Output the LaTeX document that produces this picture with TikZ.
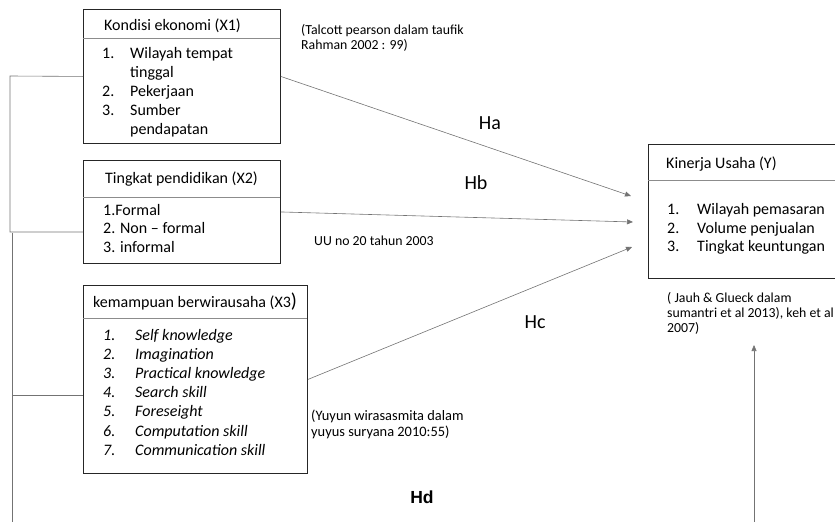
\documentclass[tikz,border=0pt]{standalone}
\usepackage{fontspec}
\setmainfont{Carlito}
\newfontfamily\hdfont{Liberation Sans}
\usetikzlibrary{arrows.meta}
\begin{document}
\begin{tikzpicture}[x=1pt,y=-1pt,
  box/.style={draw=black!85,line width=0.9pt,anchor=north west,inner sep=0pt},
  divider/.style={draw=black!45,line width=0.7pt},
  conn/.style={draw=black!55,line width=0.6pt},
  arr/.style={conn,-{Triangle[length=6pt,width=5pt]}},
  ttl/.style={anchor=base west,inner sep=0pt,font=\fontsize{16}{18}\selectfont},
  itm/.style={anchor=base west,inner sep=0pt,font=\fontsize{16}{18}\selectfont},
  iitm/.style={itm,font=\fontsize{16}{18}\selectfont\itshape},
  ref/.style={anchor=base west,inner sep=0pt,font=\fontsize{13.8}{15}\selectfont},
  hlab/.style={inner sep=0pt,font=\fontsize{20}{22}\selectfont}]
\useasboundingbox (0,0) rectangle (835,522);
% X1
\node[box,minimum width=197pt,minimum height=134pt] (x1) at (83,9) {};
\draw[divider] (83,38) -- (280,38);
\node[ttl] (x1t) at (104,30) {Kondisi ekonomi (X1)};
\node[itm] (x1n1) at (102,58) {1.};
\node[itm] (x1a) at (130,58) {Wilayah tempat};
\node[itm] (x1b) at (130,77) {tinggal};
\node[itm] (x1n2) at (102,96) {2.};
\node[itm] (x1c) at (130,96) {Pekerjaan};
\node[itm] (x1n3) at (102,115) {3.};
\node[itm] (x1d) at (130,115) {Sumber};
\node[itm] (x1e) at (130,134) {pendapatan};
% X2
\node[box,minimum width=197pt,minimum height=103pt] (x2) at (83,160) {};
\draw[divider] (83,197) -- (280,197);
\node[ttl] (x2t) at (105,183) {Tingkat pendidikan (X2)};
\node[itm] (x2a) at (103,215) {1.Formal};
\node[itm] (x2b) at (103,233.5) {2. Non -- formal};
\node[itm] (x2c) at (103,252) {3. informal};
% X3
\node[box,minimum width=224pt,minimum height=188pt] (x3) at (83,285) {};
\draw[divider] (83,318) -- (307,318);
\node[ttl] (x3t) at (93,307) {kemampuan berwirausaha (X3{\fontsize{20}{22}\selectfont)}};
\foreach \n/\t [count=\i] in {1/Self knowledge,2/Imagination,3/Practical knowledge,4/Search skill,5/Foreseight,6/Computation skill,7/Communication skill}{
  \node[iitm] (x3n\i) at (103,{340+19.2*(\i-1)}) {\n.};
  \node[iitm] (x3i\i) at (135,{340+19.2*(\i-1)}) {\t};
}
% Y
\coordinate (ytl) at (648,144);
\coordinate (ybl) at (648,278);
\draw[draw=black!85,line width=0.9pt] (835,144) -- (ytl) -- (ybl) -- (835,278);
\draw[divider] (648,180) -- (835,180);
\node[ttl] (yt) at (666,168) {Kinerja Usaha (Y)};
\node[itm] (yn1) at (667,214.5) {1.};
\node[itm] (ya) at (697,214.5) {Wilayah pemasaran};
\node[itm] (yn2) at (667,233) {2.};
\node[itm] (yb) at (697,233) {Volume penjualan};
\node[itm] (yn3) at (667,251.5) {3.};
\node[itm] (yc) at (697,251.5) {Tingkat keuntungan};
% references
\node[ref] (r1a) at (301,34.5) {(Talcott pearson dalam taufik};
\node[ref] (r1b) at (301,49.5) {Rahman 2002 : 99)};
\node[ref] (r2) at (314,245) {UU no 20 tahun 2003};
\node[ref,font=\fontsize{14.4}{16}\selectfont] (r3a) at (311,420) {(Yuyun wirasasmita dalam};
\node[ref,font=\fontsize{14.4}{16}\selectfont] (r3b) at (311,436) {yuyus suryana 2010:55)};
\node[ref] (r4a) at (667,302.5) {( Jauh \& Glueck dalam};
\node[ref] (r4b) at (667,317.5) {sumantri et al 2013), keh et al};
\node[ref] (r4c) at (667,332) {2007)};
% labels
\node[hlab] (ha) at (490,123) {Ha};
\node[hlab] (hb) at (476,183) {Hb};
\node[hlab] (hc) at (535,322) {Hc};
\node[inner sep=0pt,font=\hdfont\bfseries\fontsize{17.5}{19}\selectfont] (hd) at (422,497) {Hd};
% arrow targets
\coordinate (ta) at (631,196);
\coordinate (tb) at (633,222);
\coordinate (tc) at (632,247);
\draw[arr] (x1.east) -- (ta);
\draw[arr] (x2.east) -- (tb);
\draw[arr] (x3.east) -- (tc);
% left connector
\coordinate (l1) at (10,76);
\coordinate (l2) at (10,232);
\coordinate (l3) at (12,233);
\coordinate (l4) at (12,395);
\coordinate (l5) at (12,522);
\draw[conn] (x1.west) -- (l1) -- (l2) -- (x2.west |- l2);
\draw[conn] (l3) -- (l5);
\draw[conn] (l4) -- (x3.west |- l4);
% bottom arrow
\coordinate (b0) at (754,522);
\coordinate (b1) at (754,345);
\draw[arr] (b0) -- (b1);
\end{tikzpicture}
\end{document}
